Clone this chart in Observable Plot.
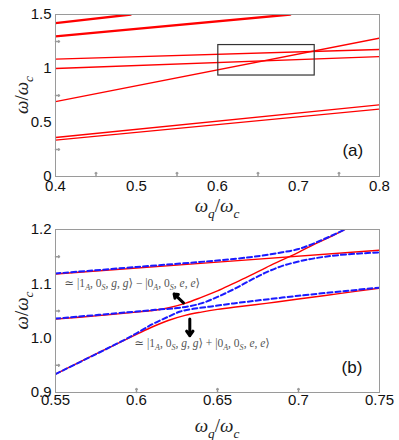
<!DOCTYPE html>
<html><head><meta charset="utf-8">
<script src="https://cdn.jsdelivr.net/npm/d3@7"></script>
<script src="https://cdn.jsdelivr.net/npm/@observablehq/plot@0.6"></script>
<style>
body{margin:0;background:#fff}
#chart{width:399px}
#chart svg{display:block;overflow:visible}
</style>
</head><body><div id="chart"></div>
<script>
// ---------- Panel (a) data ----------
const aXTicks = [0.4, 0.5, 0.6, 0.7, 0.8];
const aYTicks = [0, 0.5, 1, 1.5];
const aXMinor = [0.45, 0.55, 0.65, 0.75];
const aYMinor = [0.25, 0.75, 1.25];
const aThick1 = [[0.4, 1.42], [0.493, 1.5]];
const aThick2 = [[0.4, 1.297], [0.69, 1.5]];
const aLine3 = [[0.4, 1.087], [0.8, 1.176]];
const aLine4 = [[0.4, 1.0], [0.8, 1.111]];
const aLine5 = [[0.4, 0.694], [0.8, 1.281]];
const aLine6 = [[0.4, 0.361], [0.8, 0.664]];
const aLine7 = [[0.4, 0.337], [0.8, 0.624]];
const aLine0 = [[0.4, 0], [0.8, 0]];
const aBox = [{x1: 0.601, x2: 0.72, y1: 0.935, y2: 1.217}];
const aTag = [{x: 0.767, y: 0.238, t: "(a)"}];

// ---------- Panel (b) data ----------
const bXTicks = [0.55, 0.6, 0.65, 0.7, 0.75];
const bYTicks = [0.9, 1.0, 1.1, 1.2];
const bXMinor = [0.6, 0.65, 0.7];
const bYMinor = [0.95, 1.05, 1.15];
const redUpper = [[0.55,1.035],[0.575,1.041],[0.60,1.048],[0.61,1.051],[0.62,1.056],[0.63,1.064],[0.64,1.075],[0.65,1.087],[0.66,1.101],[0.67,1.115],[0.68,1.130],[0.69,1.144],[0.70,1.158],[0.71,1.173],[0.72,1.187],[0.73,1.202]];
const redLower = [[0.55,0.934],[0.575,0.971],[0.60,1.007],[0.61,1.021],[0.62,1.033],[0.63,1.042],[0.64,1.048],[0.65,1.053],[0.66,1.057],[0.68,1.064],[0.70,1.072],[0.725,1.082],[0.75,1.092]];
const redTop = [[0.55,1.118],[0.65,1.140],[0.75,1.162]];
const blueTop = [[0.55,1.119],[0.60,1.131],[0.65,1.143],[0.67,1.149],[0.68,1.153],[0.69,1.158],[0.70,1.164],[0.71,1.175],[0.72,1.188],[0.73,1.202]];
const blueMid = [[0.55,1.036],[0.60,1.049],[0.615,1.053],[0.627,1.056],[0.64,1.064],[0.65,1.076],[0.66,1.090],[0.67,1.106],[0.68,1.121],[0.69,1.133],[0.70,1.141],[0.71,1.147],[0.725,1.153],[0.75,1.158]];
const blueLow = [[0.55,0.934],[0.59,0.993],[0.60,1.009],[0.61,1.026],[0.62,1.040],[0.627,1.049],[0.635,1.054],[0.645,1.058],[0.66,1.064],[0.70,1.078],[0.75,1.093]];
const bArrows = [{x1: 0.629, y1: 1.065, x2: 0.6232, y2: 1.0814}, {x1: 0.6329, y1: 1.0353, x2: 0.6329, y2: 1.0045}];
const bNotes = [
  {x: 0.5559, y: 1.0999, parts: [["≃ |1"],["A","subi"],[", 0"],["S","subi"],[", "],["g","i"],[", "],["g","i"],["⟩ − |0"],["A","subi"],[", 0"],["S","subi"],[", "],["e","i"],[", "],["e","i"],["⟩"]]},
  {x: 0.599, y: 0.9898, parts: [["≃ |1"],["A","subi"],[", 0"],["S","subi"],[", "],["g","i"],[", "],["g","i"],["⟩ + |0"],["A","subi"],[", 0"],["S","subi"],[", "],["e","i"],[", "],["e","i"],["⟩"]]}
];
const bTag = [{x: 0.733, y: 0.946, t: "(b)"}];

const yLabelParts = [["ω","i"],["/"],["ω","i"],["c","subi"]];
const xLabelParts = [["ω","i"],["q","subi"],["/"],["ω","i"],["c","subi"]];

const toRows = (pts) => pts.map(([x, y]) => ({x, y}));
const FRAME = "#9a9a9a";
const SANS = "Liberation Sans, Arial, sans-serif";
const SERIF = "Liberation Serif, DejaVu Serif, serif";

function rich(sel, parts, size) {
  const t = sel.append("text").attr("font-size", size).attr("font-family", SERIF);
  let shifted = 0;
  for (const [s, k] of parts) {
    const ts = t.append("tspan").text(s);
    const isSub = k === "sub" || k === "subi";
    const want = isSub ? size * 0.3 : 0;
    if (want !== shifted) { ts.attr("dy", want - shifted); shifted = want; }
    if (isSub) ts.attr("font-size", size * 0.7);
    if (k === "i" || k === "subi") ts.attr("font-style", "italic");
  }
  return t;
}

function addAxisLabels(svg, top, bottom, left, right, xLabY) {
  const s = d3.select(svg);
  const cy = (top + bottom) / 2;
  const gy = s.append("g").attr("transform", `translate(21,${cy}) rotate(-90)`);
  rich(gy, yLabelParts, 19).attr("text-anchor", "middle").attr("dy", "0.35em").attr("fill", "#222");
  const gx = s.append("g").attr("transform", `translate(${(left + right) / 2},${xLabY})`);
  rich(gx, xLabelParts, 19).attr("text-anchor", "middle").attr("fill", "#222");
}

// ---------- Panel (a) ----------
const plotA = Plot.plot({
  width: 399, height: 220,
  marginLeft: 55, marginRight: 20, marginTop: 14, marginBottom: 44,
  style: {fontFamily: SANS, fontSize: "15px", color: "#111", background: "#fff"},
  x: {domain: [0.4, 0.8], label: null},
  y: {domain: [0, 1.5], label: null},
  marks: [
    Plot.axisX({ticks: aXTicks, tickFormat: d => String(d), tickSize: 0, tickPadding: 4, label: null}),
    Plot.axisY({ticks: aYTicks, tickFormat: d => String(d), tickSize: 0, tickPadding: 4, label: null}),
    Plot.vectorX(aXMinor, {x: d => d, frameAnchor: "bottom", length: 4, rotate: 0, anchor: "start", stroke: FRAME}),
    Plot.vectorY(aYMinor, {y: d => d, frameAnchor: "left", length: 4, rotate: 90, anchor: "start", stroke: FRAME}),
    Plot.line(toRows(aLine0), {x: "x", y: "y", stroke: "#e33", strokeWidth: 1}),
    Plot.line(toRows(aThick1), {x: "x", y: "y", stroke: "red", strokeWidth: 2.3, clip: true}),
    Plot.line(toRows(aThick2), {x: "x", y: "y", stroke: "red", strokeWidth: 2.3, clip: true}),
    Plot.line(toRows(aLine3), {x: "x", y: "y", stroke: "red", strokeWidth: 1.3, clip: true}),
    Plot.line(toRows(aLine4), {x: "x", y: "y", stroke: "red", strokeWidth: 1.3, clip: true}),
    Plot.line(toRows(aLine5), {x: "x", y: "y", stroke: "red", strokeWidth: 1.3, clip: true}),
    Plot.line(toRows(aLine6), {x: "x", y: "y", stroke: "red", strokeWidth: 1.3, clip: true}),
    Plot.line(toRows(aLine7), {x: "x", y: "y", stroke: "red", strokeWidth: 1.3, clip: true}),
    Plot.rect(aBox, {x1: "x1", x2: "x2", y1: "y1", y2: "y2", fill: "none", stroke: "#333", strokeWidth: 1.2}),
    Plot.text(aTag, {x: "x", y: "y", text: "t", fontSize: 17, fill: "#111"}),
    Plot.frame({stroke: FRAME, strokeWidth: 1})
  ]
});
addAxisLabels(plotA, 14, 176, 55, 379, 212);

// ---------- Panel (b) ----------
const plotB = Plot.plot({
  width: 399, height: 220,
  marginLeft: 55, marginRight: 20, marginTop: 9, marginBottom: 48,
  style: {fontFamily: SANS, fontSize: "15px", color: "#111", background: "#fff"},
  x: {domain: [0.55, 0.75], label: null},
  y: {domain: [0.9, 1.2], label: null},
  marks: [
    Plot.axisX({ticks: bXTicks, tickFormat: d => String(d), tickSize: 0, tickPadding: 2, label: null}),
    Plot.axisY({ticks: bYTicks, tickFormat: d3.format(".1f"), tickSize: 0, tickPadding: 4, label: null}),
    Plot.vectorX(bXMinor, {x: d => d, frameAnchor: "bottom", length: 4, rotate: 0, anchor: "start", stroke: FRAME}),
    Plot.vectorY(bYMinor, {y: d => d, frameAnchor: "left", length: 4, rotate: 90, anchor: "start", stroke: FRAME}),
    Plot.line(toRows(redTop), {x: "x", y: "y", stroke: "red", strokeWidth: 1.4, clip: true}),
    Plot.line(toRows(redUpper), {x: "x", y: "y", stroke: "red", strokeWidth: 1.4, curve: "catmull-rom", clip: true}),
    Plot.line(toRows(redLower), {x: "x", y: "y", stroke: "red", strokeWidth: 1.4, curve: "catmull-rom", clip: true}),
    Plot.line(toRows(blueTop), {x: "x", y: "y", stroke: "#1a1aff", strokeWidth: 2, strokeDasharray: "5,3", curve: "catmull-rom", clip: true}),
    Plot.line(toRows(blueMid), {x: "x", y: "y", stroke: "#1a1aff", strokeWidth: 2, strokeDasharray: "5,3", curve: "catmull-rom", clip: true}),
    Plot.line(toRows(blueLow), {x: "x", y: "y", stroke: "#1a1aff", strokeWidth: 2, strokeDasharray: "5,3", curve: "catmull-rom", clip: true}),
    Plot.arrow(bArrows, {x1: "x1", y1: "y1", x2: "x2", y2: "y2", stroke: "black", strokeWidth: 3, headLength: 7, headAngle: 70}),
    Plot.text(bTag, {x: "x", y: "y", text: "t", fontSize: 17, fill: "#111"}),
    Plot.frame({stroke: FRAME, strokeWidth: 1})
  ]
});
{
  const xs = plotB.scale("x"), ys = plotB.scale("y");
  const s = d3.select(plotB);
  for (const n of bNotes) {
    const g = s.append("g").attr("transform", `translate(${xs.apply(n.x)},${ys.apply(n.y)})`);
    rich(g, n.parts, 11.5).attr("fill", "#555").attr("text-anchor", "start").attr("dy", "0.3em");
  }
}
addAxisLabels(plotB, 9, 172, 55, 379, 212);

document.getElementById("chart").append(plotA, plotB);
</script>
</body></html>
